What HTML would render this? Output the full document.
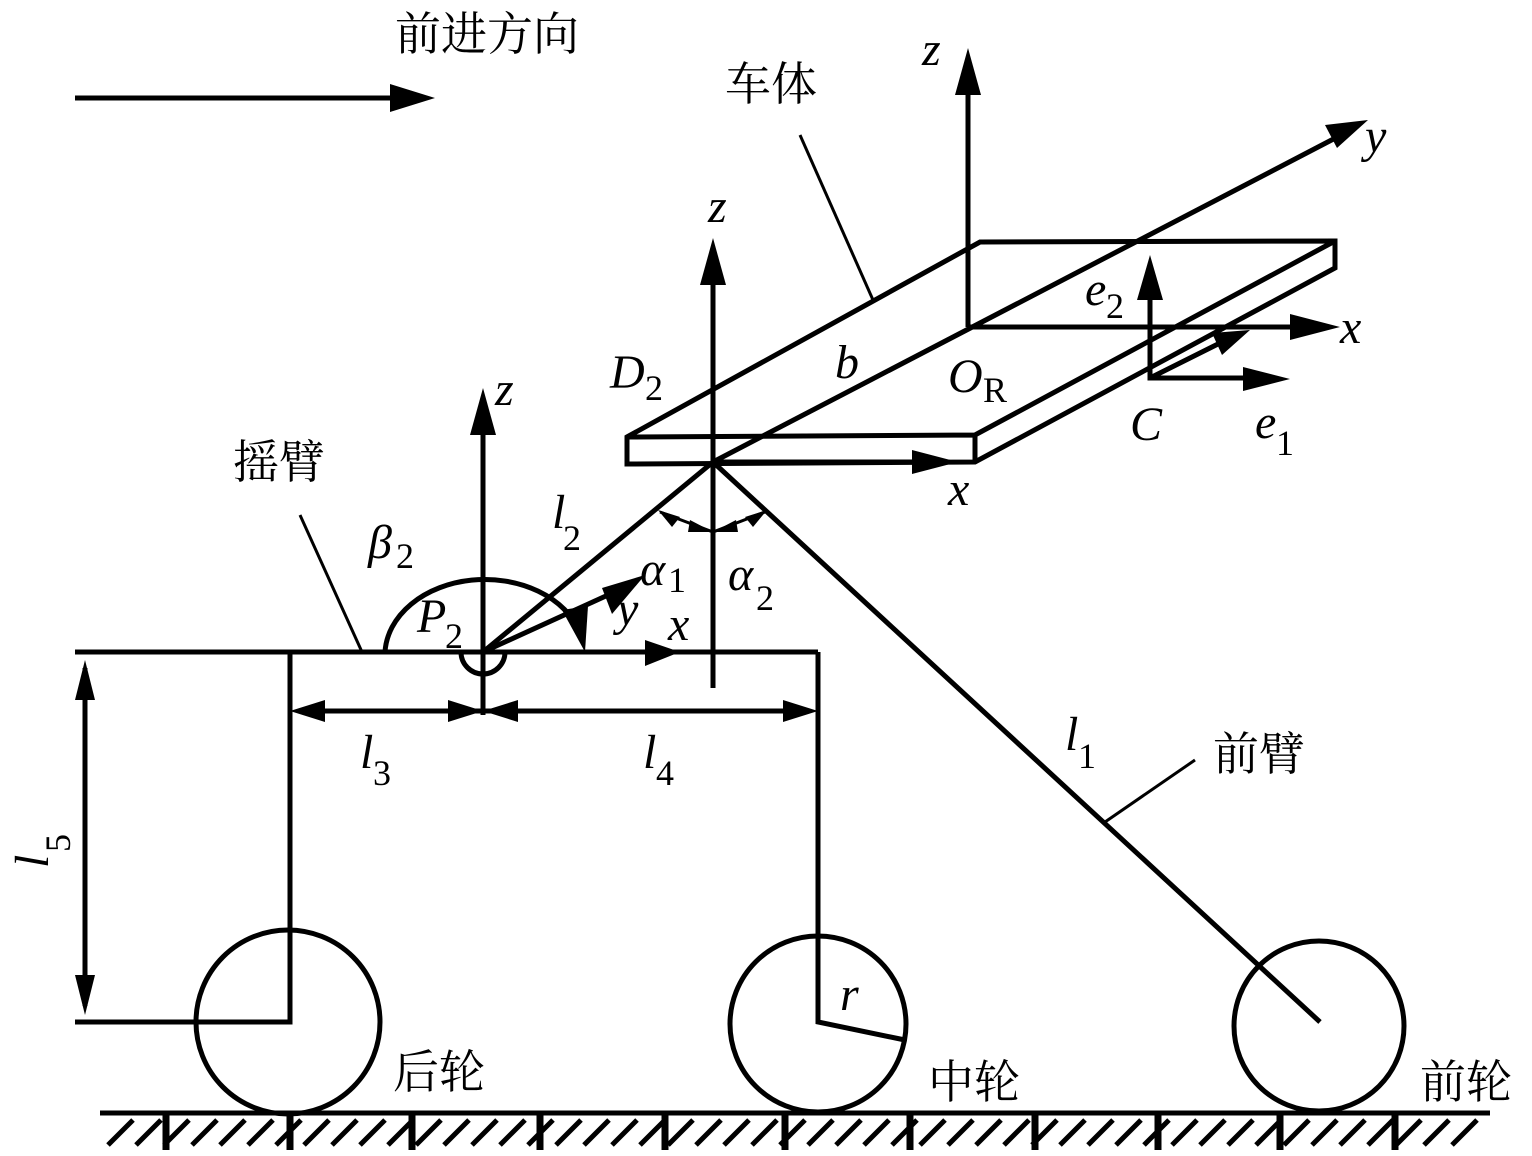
<!DOCTYPE html>
<html><head><meta charset="utf-8"><style>
html,body{margin:0;padding:0;background:#fff;}
svg{display:block}
.t{font-family:"Liberation Serif",serif;font-style:italic;font-size:48px;}
.s{font-family:"Liberation Serif",serif;font-size:36px;}
.c{font-family:"Liberation Serif","Noto Serif CJK SC",serif;font-size:46px;}
</style></head><body>
<svg width="1532" height="1156" viewBox="0 0 1532 1156" xmlns="http://www.w3.org/2000/svg">
<g stroke="#000" stroke-width="5" fill="none">
<line x1="100" y1="1113" x2="1490" y2="1113"/>
<path d="M108 1145 L133 1120 M136 1145 L161 1120 M164 1145 L189 1120 M192 1145 L217 1120 M220 1145 L245 1120 M248 1145 L273 1120 M276 1145 L301 1120 M304 1145 L329 1120 M332 1145 L357 1120 M360 1145 L385 1120 M388 1145 L413 1120 M416 1145 L441 1120 M444 1145 L469 1120 M472 1145 L497 1120 M500 1145 L525 1120 M528 1145 L553 1120 M556 1145 L581 1120 M584 1145 L609 1120 M612 1145 L637 1120 M640 1145 L665 1120 M668 1145 L693 1120 M696 1145 L721 1120 M724 1145 L749 1120 M752 1145 L777 1120 M780 1145 L805 1120 M808 1145 L833 1120 M836 1145 L861 1120 M864 1145 L889 1120 M892 1145 L917 1120 M920 1145 L945 1120 M948 1145 L973 1120 M976 1145 L1001 1120 M1004 1145 L1029 1120 M1032 1145 L1057 1120 M1060 1145 L1085 1120 M1088 1145 L1113 1120 M1116 1145 L1141 1120 M1144 1145 L1169 1120 M1172 1145 L1197 1120 M1200 1145 L1225 1120 M1228 1145 L1253 1120 M1256 1145 L1281 1120 M1284 1145 L1309 1120 M1312 1145 L1337 1120 M1340 1145 L1365 1120 M1368 1145 L1393 1120 M1396 1145 L1421 1120 M1424 1145 L1449 1120 M1452 1145 L1477 1120"/>
<path d="M166 1115 L166 1150 M290 1115 L290 1150 M412 1115 L412 1150 M540 1115 L540 1150 M665 1115 L665 1150 M785 1115 L785 1150 M910 1115 L910 1150 M1035 1115 L1035 1150 M1158 1115 L1158 1150 M1280 1115 L1280 1150 M1395 1115 L1395 1150" stroke-width="7"/>
<circle cx="288" cy="1022" r="92"/>
<circle cx="818" cy="1024" r="88"/>
<circle cx="1319" cy="1026" r="85"/>
<path d="M75 652 L818 652 M290 652 L290 1022 L75 1022 M818 652 L818 1022 L905 1040"/>
<line x1="85" y1="668" x2="85" y2="1006"/>
<line x1="305" y1="711" x2="803" y2="711"/>
<line x1="483" y1="652" x2="483" y2="715"/>
<line x1="483" y1="652" x2="483" y2="405"/>
<path d="M461 652 A22 22 0 0 0 505 652"/>
<path d="M385 652 A100 76 0 0 1 580 632"/>
<line x1="483" y1="652" x2="713" y2="462"/>
<line x1="483" y1="652" x2="630" y2="585"/>
<line x1="713" y1="688" x2="713" y2="260"/>
<line x1="713" y1="462" x2="1320" y2="1022"/>
<path d="M627 437 L980 242 L1335 241 L1335 268 L975 462 L627 464 Z M627 437 L975 435 L1335 241 M975 435 L975 462"/>
<line x1="713" y1="462" x2="1345" y2="133"/>
<line x1="968" y1="327" x2="968" y2="70"/>
<line x1="968" y1="327" x2="1300" y2="327"/>
<line x1="713" y1="462" x2="930" y2="462"/>
<path d="M1150 275 L1150 378 L1260 378 M1150 378 L1220 343"/>
<line x1="75" y1="98" x2="400" y2="98"/>
<line x1="800" y1="135" x2="873" y2="300" stroke-width="3"/>
<line x1="300" y1="515" x2="362" y2="652" stroke-width="3"/>
<line x1="1195" y1="760" x2="1105" y2="822" stroke-width="3"/>
<path d="M660 512 L713 532 L765 512" stroke-width="3"/>
</g>
<g fill="#000">
<polygon points="435,98 390,84 390,112"/>
<polygon points="85,660 75,700 95,700"/>
<polygon points="85,1015 75,975 95,975"/>
<polygon points="290,711 325,700 325,722"/>
<polygon points="483,711 448,700 448,722"/>
<polygon points="483,711 518,700 518,722"/>
<polygon points="818,711 783,700 783,722"/>
<polygon points="483,388 470,435 496,435"/>
<polygon points="713,238 700,285 726,285"/>
<polygon points="968,48 955,95 981,95"/>
<polygon points="1368,120 1325,125 1337,148"/>
<polygon points="1340,327 1290,314 1290,340"/>
<polygon points="958,462 912,450 912,474"/>
<polygon points="680,652 645,640 645,666"/>
<polygon points="645,575 602,588 612,614"/>
<polygon points="585,652 562,610 588,606"/>
<polygon points="1150,255 1137,300 1163,300"/>
<polygon points="1290,379 1243,367 1243,391"/>
<polygon points="1250,330 1212,333 1222,355"/>
<polygon points="658,510 672,527 680,517"/>
<polygon points="713,532 690,520 688,532"/>
<polygon points="713,532 736,520 738,532"/>
<polygon points="767,510 753,527 745,517"/>
</g>
<g>
<text class="c" x="395" y="50">前进方向</text>
<text class="c" x="725" y="100">车体</text>
<text class="c" x="233" y="478">摇臂</text>
<text class="c" x="1213" y="770">前臂</text>
<text class="c" x="393" y="1088">后轮</text>
<text class="c" x="928" y="1098">中轮</text>
<text class="c" x="1420" y="1098">前轮</text>

<text class="t" x="922" y="65">z</text>
<text class="t" x="1365" y="152">y</text>
<text class="t" x="708" y="222">z</text>
<text class="t" x="1340" y="343">x</text>
<text class="t" x="1085" y="305">e</text><text class="s" x="1106" y="318">2</text>
<text class="t" x="610" y="388">D</text><text class="s" x="645" y="400">2</text>
<text class="t" x="835" y="378">b</text>
<text class="t" x="948" y="392">O</text><text class="s" x="983" y="402" font-size="32">R</text>
<text class="t" x="1130" y="440">C</text>
<text class="t" x="1255" y="438">e</text><text class="s" x="1276" y="455">1</text>
<text class="t" x="495" y="405">z</text>
<text class="t" x="948" y="505">x</text>
<text class="t" x="552" y="528">l</text><text class="s" x="563" y="550">2</text>
<text class="t" x="640" y="585">α</text><text class="s" x="668" y="592">1</text>
<text class="t" x="728" y="590">α</text><text class="s" x="756" y="610">2</text>
<text class="t" x="368" y="558">β</text><text class="s" x="396" y="568">2</text>
<text class="t" x="417" y="632">P</text><text class="s" x="445" y="648">2</text>
<text class="t" x="617" y="625">y</text>
<text class="t" x="668" y="640">x</text>
<text class="t" x="360" y="768">l</text><text class="s" x="373" y="785">3</text>
<text class="t" x="643" y="768">l</text><text class="s" x="656" y="785">4</text>
<text class="t" x="1065" y="750">l</text><text class="s" x="1078" y="768">1</text>
<text class="t" x="840" y="1010">r</text>
<text class="t" transform="translate(48,868) rotate(-90)">l</text>
<text class="s" transform="translate(70,852) rotate(-90)">5</text>
</g>
</svg>
</body></html>
